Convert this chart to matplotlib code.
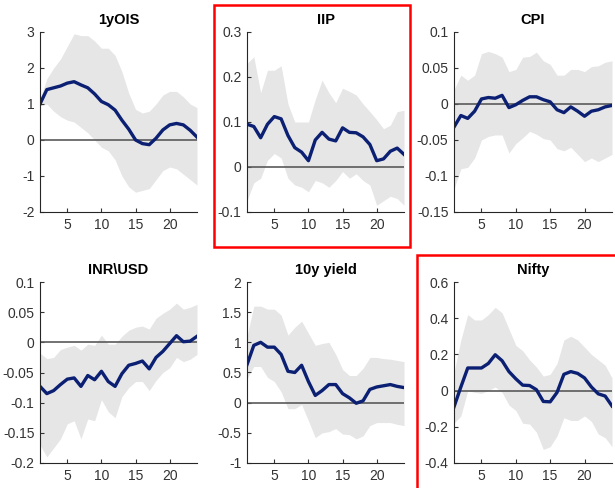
import matplotlib
matplotlib.use('Agg')
import matplotlib.pyplot as plt
from matplotlib.patches import Rectangle
import numpy as np

plt.rcParams['font.family'] = ['Liberation Sans', 'DejaVu Sans']

horizon = np.arange(1, 25)

titles = ['1yOIS', 'IIP', 'CPI', 'INR\\USD', '10y yield', 'Nifty']

ois_med = [1.0, 1.4, 1.45, 1.5, 1.58, 1.62, 1.53, 1.45, 1.28, 1.07, 0.98, 0.83,
           0.55, 0.3, 0.0, -0.1, -0.13, 0.05, 0.28, 0.42, 0.46, 0.42, 0.27, 0.08]
ois_hi = [1.15, 1.7, 2.0, 2.25, 2.6, 2.95, 2.9, 2.9, 2.75, 2.55, 2.55, 2.35,
          1.9, 1.3, 0.85, 0.75, 0.8, 1.0, 1.25, 1.35, 1.35, 1.2, 1.0, 0.9]
ois_lo = [0.95, 1.0, 0.8, 0.65, 0.55, 0.5, 0.35, 0.2, 0.0, -0.2, -0.3, -0.55,
          -1.0, -1.3, -1.45, -1.4, -1.35, -1.1, -0.85, -0.75, -0.8, -0.95, -1.1, -1.25]

iip_med = [0.095, 0.09, 0.065, 0.095, 0.112, 0.107, 0.07, 0.043, 0.033, 0.014, 0.06, 0.077,
           0.062, 0.058, 0.087, 0.077, 0.076, 0.067, 0.05, 0.014, 0.018, 0.035, 0.042, 0.028]
iip_hi = [0.23, 0.245, 0.165, 0.215, 0.215, 0.225, 0.14, 0.1, 0.1, 0.1, 0.15, 0.193,
          0.165, 0.143, 0.175, 0.168, 0.16, 0.14, 0.123, 0.105, 0.085, 0.093, 0.123, 0.126]
iip_lo = [-0.075, -0.035, -0.025, 0.015, 0.03, 0.02, -0.025, -0.04, -0.045, -0.055, -0.03, -0.035,
          -0.045, -0.03, -0.01, -0.025, -0.015, -0.03, -0.04, -0.085, -0.075, -0.065, -0.07, -0.085]

cpi_med = [-0.032, -0.016, -0.02, -0.01, 0.007, 0.009, 0.008, 0.012, -0.005, -0.001, 0.005, 0.01,
           0.01, 0.006, 0.003, -0.008, -0.012, -0.004, -0.01, -0.017, -0.01, -0.008, -0.004, -0.002]
cpi_hi = [0.02, 0.04, 0.033, 0.04, 0.07, 0.073, 0.07, 0.065, 0.045, 0.048, 0.065, 0.066,
          0.072, 0.06, 0.055, 0.04, 0.04, 0.048, 0.048, 0.045, 0.052, 0.053, 0.058, 0.06]
cpi_lo = [-0.118, -0.09, -0.088, -0.075, -0.05, -0.045, -0.043, -0.043, -0.068, -0.055, -0.047, -0.038,
          -0.042, -0.048, -0.05, -0.062, -0.065, -0.06, -0.07, -0.08, -0.075, -0.08, -0.075, -0.07]

inr_med = [-0.073, -0.085, -0.08, -0.07, -0.061, -0.059, -0.073, -0.055, -0.062, -0.048, -0.065, -0.073,
           -0.052, -0.038, -0.035, -0.031, -0.044, -0.025, -0.015, -0.002, 0.011, 0.001, 0.002, 0.01]
inr_hi = [-0.018, -0.027, -0.025, -0.012, -0.008, -0.005, -0.013, -0.003, -0.005, 0.012, -0.003, -0.003,
          0.01, 0.02, 0.025, 0.027, 0.022, 0.04, 0.048, 0.055, 0.065, 0.055, 0.058, 0.063]
inr_lo = [-0.17, -0.19, -0.175, -0.16, -0.135, -0.13, -0.16, -0.127, -0.13, -0.095, -0.115, -0.125,
          -0.09, -0.075, -0.065, -0.065, -0.08, -0.063, -0.05, -0.042, -0.025, -0.032, -0.028, -0.02]

yld_med = [0.63, 0.95, 1.0, 0.92, 0.92, 0.8, 0.52, 0.5, 0.62, 0.35, 0.12, 0.2,
           0.3, 0.3, 0.15, 0.08, -0.01, 0.03, 0.22, 0.26, 0.28, 0.3, 0.27, 0.25]
yld_hi = [1.1, 1.6, 1.6, 1.55, 1.55, 1.45, 1.12, 1.25, 1.35, 1.15, 0.95, 0.98,
          1.0, 0.8, 0.55, 0.45, 0.45, 0.57, 0.75, 0.75, 0.73, 0.72, 0.7, 0.68]
yld_lo = [0.4, 0.6, 0.6, 0.42, 0.35, 0.18, -0.1, -0.1, -0.03, -0.3, -0.58, -0.5,
          -0.48, -0.43, -0.52, -0.53, -0.6, -0.55, -0.38, -0.33, -0.33, -0.33, -0.36, -0.38]

nifty_med = [-0.09, 0.02, 0.125, 0.125, 0.125, 0.15, 0.198, 0.165, 0.105, 0.065, 0.03, 0.028,
             0.005, -0.06, -0.062, -0.01, 0.09, 0.105, 0.095, 0.07, 0.02, -0.018, -0.03, -0.085]
nifty_hi = [0.1, 0.28, 0.42, 0.39, 0.39, 0.42, 0.46, 0.43, 0.34, 0.25, 0.22, 0.17,
            0.13, 0.08, 0.09, 0.15, 0.28, 0.3, 0.28, 0.24, 0.2, 0.17, 0.14, 0.07]
nifty_lo = [-0.18, -0.14, 0.0, -0.01, -0.015, 0.0, 0.02, -0.01, -0.08, -0.11, -0.18, -0.185,
            -0.23, -0.325, -0.31, -0.25, -0.15, -0.165, -0.165, -0.14, -0.17, -0.24, -0.26, -0.31]

medians = [ois_med, iip_med, cpi_med, inr_med, yld_med, nifty_med]
uppers = [ois_hi, iip_hi, cpi_hi, inr_hi, yld_hi, nifty_hi]
lowers = [ois_lo, iip_lo, cpi_lo, inr_lo, yld_lo, nifty_lo]
ylims = [(-2, 3), (-0.1, 0.3), (-0.15, 0.1), (-0.2, 0.1), (-1, 2), (-0.4, 0.6)]
yticks = [[-2, -1, 0, 1, 2, 3], [-0.1, 0, 0.1, 0.2, 0.3],
          [-0.15, -0.1, -0.05, 0, 0.05, 0.1], [-0.2, -0.15, -0.1, -0.05, 0, 0.05, 0.1],
          [-1, -0.5, 0, 0.5, 1, 1.5, 2], [-0.4, -0.2, 0, 0.2, 0.4, 0.6]]
yticklabels = [['-2', '-1', '0', '1', '2', '3'], ['-0.1', '0', '0.1', '0.2', '0.3'],
               ['-0.15', '-0.1', '-0.05', '0', '0.05', '0.1'],
               ['-0.2', '-0.15', '-0.1', '-0.05', '0', '0.05', '0.1'],
               ['-1', '-0.5', '0', '0.5', '1', '1.5', '2'],
               ['-0.4', '-0.2', '0', '0.2', '0.4', '0.6']]

W, H = 615, 488
fig = plt.figure(figsize=(W / 100, H / 100), dpi=100)

# pixel boxes: left, right, top, bottom
cols = [(40, 197), (247, 404), (454, 612)]
rows = [(32, 212), (282, 463)]

for i in range(6):
    l, r = cols[i % 3]
    t, b = rows[i // 3]
    ax = fig.add_axes([l / W, 1 - b / H, (r - l) / W, (b - t) / H])
    ax.fill_between(horizon, lowers[i], uppers[i], color='#e6e6e6', lw=0)
    ax.axhline(0, color='#5a5a5a', lw=1.2)
    ax.plot(horizon, medians[i], color='#0b1f73', lw=2.4)
    ax.set_xlim(1, 24)
    ax.set_ylim(*ylims[i])
    ax.set_xticks([5, 10, 15, 20])
    ax.set_yticks(yticks[i])
    ax.set_yticklabels(yticklabels[i])
    ax.set_title(titles[i], fontsize=10.5, fontweight='bold', pad=6)
    for s in ['top', 'right']:
        ax.spines[s].set_visible(False)
    for s in ['left', 'bottom']:
        ax.spines[s].set_color('#262626')
        ax.spines[s].set_linewidth(0.8)
    ax.tick_params(direction='in', length=3, width=0.8, labelsize=10,
                   colors='#333333', pad=4)

# red highlight boxes
fig.patches.append(Rectangle((214 / W, 1 - 247 / H), (410 - 214) / W, (247 - 5) / H,
                             transform=fig.transFigure, fill=False, ec='#ff0000', lw=1.8))
fig.patches.append(Rectangle((417 / W, 1 - 500 / H), (630 - 417) / W, (500 - 255) / H,
                             transform=fig.transFigure, fill=False, ec='#ff0000', lw=1.8,
                             clip_on=False))

plt.savefig('out.png', dpi=100)
